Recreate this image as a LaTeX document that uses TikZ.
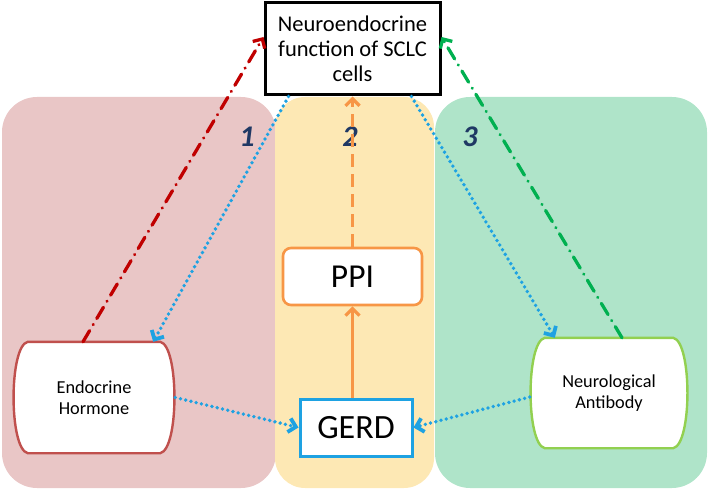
\documentclass[tikz,border=0pt]{standalone}
\usepackage{fontspec}
\setmainfont{Carlito}
\usetikzlibrary{arrows.meta,calc}
\pgfdeclarelayer{back}\pgfdeclarelayer{mid}\pgfsetlayers{back,mid,main}
\definecolor{panelred}{RGB}{233,198,198}
\definecolor{panelyellow}{RGB}{253,232,180}
\definecolor{panelgreen}{RGB}{175,228,201}
\definecolor{edgered}{RGB}{192,80,77}
\definecolor{edgegreen}{RGB}{146,208,80}
\definecolor{orangec}{RGB}{247,150,70}
\definecolor{bluec}{RGB}{30,162,226}
\definecolor{darkredc}{RGB}{192,0,0}
\definecolor{darkgreenc}{RGB}{0,176,80}
\definecolor{numblue}{RGB}{31,56,100}
\newcommand\bulgeoutline[2]{%
  \draw[#2, line width=2.4pt, fill=white]
    ([xshift=15pt]#1.north west) -- ([xshift=-15pt]#1.north east)
    .. controls ([xshift=4pt,yshift=-4pt]#1.north east) and ([xshift=4pt,yshift=4pt]#1.south east) ..
    ([xshift=-15pt]#1.south east) -- ([xshift=15pt]#1.south west)
    .. controls ([xshift=-4pt,yshift=4pt]#1.south west) and ([xshift=-4pt,yshift=-4pt]#1.north west) ..
    cycle;}
\begin{document}
\begin{tikzpicture}[x=1pt,y=-1pt,
  topbox/.style={draw=black, line width=3pt, fill=white, minimum width=175pt, minimum height=92pt,
    align=center, inner sep=0pt, font=\fontsize{22.5}{25}\selectfont},
  bulgenode/.style={minimum width=#1, minimum height=111pt, align=center, inner sep=0pt,
    font=\fontsize{18.3}{21.5}\selectfont},
  ppibox/.style={draw=orangec, line width=2.6pt, fill=white, rounded corners=8pt,
    minimum width=139pt, minimum height=57pt, inner sep=0pt, font=\fontsize{33.5}{33.5}\selectfont},
  gerdbox/.style={draw=bluec, line width=3pt, fill=white,
    minimum width=112pt, minimum height=57pt, inner sep=0pt, font=\fontsize{34}{34}\selectfont},
  numlabel/.style={text=numblue, font=\fontsize{30}{30}\selectfont\bfseries\itshape, inner sep=0pt},
  tipv/.style={-{Straight Barb[length=7pt,width=14pt]}},
  bluedots/.style={draw=bluec, line width=3.8pt, dash pattern=on 0pt off 5.4pt, line cap=round, tipv},
  reddashdot/.style={draw=darkredc, line width=3.3pt, dash pattern=on 13pt off 7pt on 0.1pt off 7pt, line cap=round, tipv},
  greendashdot/.style={draw=darkgreenc, line width=3.3pt, dash pattern=on 13pt off 7pt on 0.1pt off 7pt, line cap=round, tipv},
  orangedash/.style={draw=orangec, line width=3.2pt, dash pattern=on 13pt off 7pt, tipv},
  orangesolid/.style={draw=orangec, line width=3.2pt, tipv}
]
\useasboundingbox (0,0) rectangle (709,492);
\begin{pgfonlayer}{back}
  \fill[panelred, rounded corners=35pt] (2,97) rectangle (276,488);
  \fill[panelyellow, rounded corners=30pt] (275,97) rectangle (434,488);
  \fill[panelgreen, rounded corners=35pt] (435,97) rectangle (707,488);
\end{pgfonlayer}

\node[topbox] (top) at (352.5,49) {Neuroendocrine\\function of SCLC\\cells};
\node[bulgenode=162pt] (eh) at (94,397.5) {Endocrine\\Hormone};
\node[bulgenode=158pt, minimum height=110pt] (nb) at (609,393) {Neurological\\Antibody};
\begin{pgfonlayer}{mid}
  \bulgeoutline{eh}{edgered}
  \bulgeoutline{nb}{edgegreen}
\end{pgfonlayer}
\node[ppibox] (ppi) at (352.5,276.5) {PPI};
\node[gerdbox] (gerd) at (356,427.5) {GERD};

\node[numlabel] (n1) at (247,137) {1};
\node[numlabel] (n2) at (350,137) {2};
\node[numlabel] (n3) at (470,137) {3};

\draw[reddashdot] ([xshift=-11pt]eh.north) -- ([yshift=12pt]top.west);
\draw[greendashdot] ([xshift=13pt]nb.north) -- ([yshift=12pt]top.east);
\draw[bluedots] ([xshift=25pt]top.south west) -- ([xshift=-22pt]eh.north east);
\draw[bluedots] ([xshift=-30pt]top.south east) -- ([xshift=25pt]nb.north west);
\draw[bluedots] (eh.east) -- (gerd.west);
\draw[bluedots] ([yshift=-4pt]nb.west) -- (gerd.east);
\draw[orangedash] (ppi.north) -- (top.south);
\draw[orangesolid] (ppi.south |- gerd.north) -- (ppi.south);
\end{tikzpicture}
\end{document}
